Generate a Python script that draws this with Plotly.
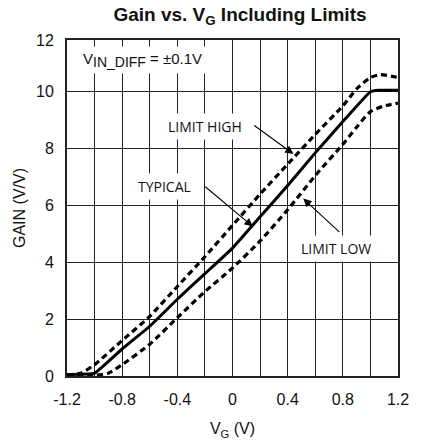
import plotly.graph_objects as go

# ---- data ----
vg_typ = [-1.2, -1.0, -0.8, -0.6, -0.4, -0.2, 0.0, 0.2, 0.4, 0.6, 0.8, 1.0, 1.06, 1.2]
gain_typ = [0.05, 0.1, 0.95, 1.75, 2.7, 3.6, 4.5, 5.6, 6.7, 7.85, 8.95, 10.0, 10.05, 10.05]

vg_high = [-1.2, -1.1, -1.0, -0.8, -0.6, -0.4, -0.2, 0.0, 0.2, 0.4, 0.6, 0.8, 0.9, 1.0, 1.07, 1.2]
gain_high = [0.05, 0.1, 0.4, 1.25, 2.1, 3.15, 4.2, 5.3, 6.4, 7.45, 8.5, 9.5, 10.1, 10.5, 10.6, 10.5]

vg_low = [-1.2, -1.0, -0.9, -0.8, -0.6, -0.4, -0.2, 0.0, 0.2, 0.4, 0.6, 0.8, 0.9, 1.0, 1.1, 1.2]
gain_low = [0.0, 0.02, 0.1, 0.4, 1.12, 2.05, 2.97, 3.8, 4.75, 5.85, 7.05, 8.15, 8.75, 9.3, 9.5, 9.6]

x_tick_vals = [-1.2, -0.8, -0.4, 0.0, 0.4, 0.8, 1.2]
x_tick_text = ["-1.2", "-0.8", "-0.4", "0", "0.4", "0.8", "1.2"]
y_top = 11.82
y_tick_vals = [0, 2, 4, 6, 8, 10, y_top]
y_tick_text = ["0", "2", "4", "6", "8", "10", "12"]

ARIAL = "Liberation Sans, Arial, sans-serif"

fig = go.Figure()
fig.add_trace(go.Scatter(x=vg_high, y=gain_high, mode="lines", name="LIMIT HIGH",
                         line=dict(color="black", width=3.2, dash="6px,4px", shape="spline", smoothing=0.6)))
fig.add_trace(go.Scatter(x=vg_low, y=gain_low, mode="lines", name="LIMIT LOW",
                         line=dict(color="black", width=3.2, dash="6px,4px", shape="spline", smoothing=0.6)))
fig.add_trace(go.Scatter(x=vg_typ, y=gain_typ, mode="lines", name="TYPICAL",
                         line=dict(color="black", width=3, shape="spline", smoothing=0.3)))

lab_font = dict(family="Open Sans, Arial, sans-serif", size=14, color="#111")
ann = []
# text labels with white boxes (they interrupt the grid)
ann.append(dict(x=-0.65, y=11.1, xref="x", yref="y", showarrow=False,
                text="V<sub><span style='font-size:14px'>IN_DIFF</span></sub> = ±0.1V",
                font=dict(family=ARIAL, size=15, color="#111"),
                bgcolor="white", borderpad=3))
ann.append(dict(x=-0.2, y=8.78, xref="x", yref="y", showarrow=False, text="LIMIT HIGH",
                font=lab_font, bgcolor="white", borderpad=3))
ann.append(dict(x=-0.49, y=6.66, xref="x", yref="y", showarrow=False, text="TYPICAL",
                font=lab_font, bgcolor="white", borderpad=3))
ann.append(dict(x=0.748, y=4.5, xref="x", yref="y", showarrow=False, text="LIMIT LOW",
                font=lab_font, bgcolor="white", borderpad=3))
# arrows
for (hx, hy, tx, ty) in [(0.442, 7.81, 0.147, 8.85), (0.147, 5.26, -0.208, 6.70), (0.513, 6.24, 0.785, 5.02)]:
    ann.append(dict(x=hx, y=hy, ax=tx, ay=ty, xref="x", yref="y", axref="x", ayref="y",
                    text="", showarrow=True, arrowhead=2, arrowsize=1.5, arrowwidth=1.1,
                    arrowcolor="black", standoff=0, startstandoff=0))

fig.update_layout(
    width=421, height=447,
    margin=dict(l=67, r=14, t=40, b=68),
    paper_bgcolor="white", plot_bgcolor="white",
    showlegend=False,
    title=dict(text="<b>Gain vs. V<sub>G</sub> Including Limits</b>", x=0.57, xanchor="center",
               y=0.967, yanchor="middle",
               font=dict(family=ARIAL, size=19, color="#111")),
    annotations=ann,
    font=dict(family=ARIAL, size=16, color="#111"),
)
fig.update_xaxes(range=[-1.2, 1.2], tickvals=x_tick_vals, ticktext=x_tick_text,
                 tickfont=dict(family=ARIAL, size=16),
                 showgrid=True, gridcolor="#222", gridwidth=1,
                 minor=dict(dtick=0.2, showgrid=True, gridcolor="#222", gridwidth=1, tick0=-1.2),
                 showline=True, linecolor="#222", linewidth=2, mirror=True, zeroline=False,
                 ticks="", ticklabelstandoff=8,
                 title=dict(text="V<sub>G</sub> (V)", standoff=16,
                            font=dict(family=ARIAL, size=16)))
fig.update_yaxes(range=[0, y_top], tickvals=y_tick_vals, ticktext=y_tick_text,
                 tickfont=dict(family=ARIAL, size=16),
                 showgrid=True, gridcolor="#222", gridwidth=1,
                 showline=True, linecolor="#222", linewidth=2, mirror=True, zeroline=False,
                 ticks="", ticklabelstandoff=8,
                 title=dict(text="GAIN (V/V)", standoff=6,
                            font=dict(family=ARIAL, size=16)))

fig.write_html("out.html", config={"displayModeBar": False},
               post_script="document.body.style.margin='0';")
